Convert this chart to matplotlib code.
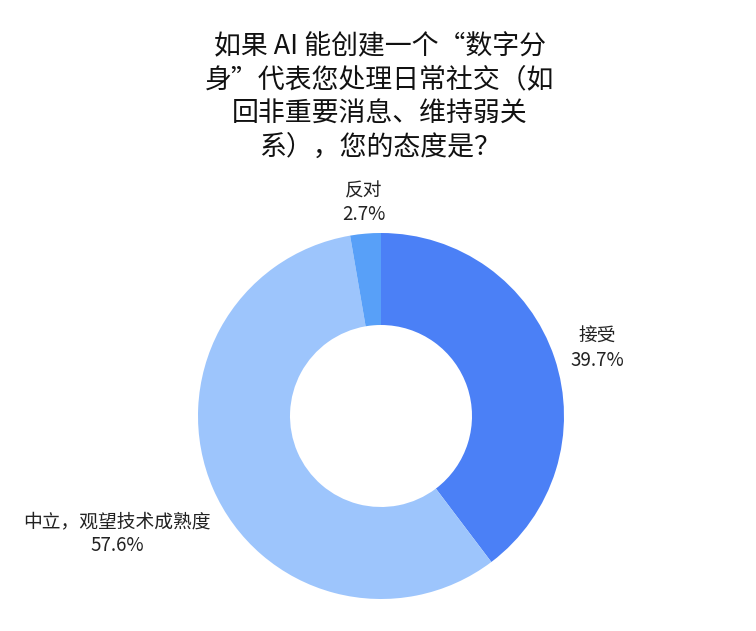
import matplotlib
matplotlib.use('Agg')
import matplotlib.pyplot as plt
import numpy as np

plt.rcParams['font.family'] = ['Noto Sans CJK SC', 'DejaVu Sans']

title = '如果 AI 能创建一个“数字分\n身”代表您处理日常社交（如\n回非重要消息、维持弱关\n系），您的态度是？'
labels = ['接受', '中立，观望技术成熟度', '反对']
values = [39.7, 57.6, 2.7]
colors = ['#4b80f6', '#9dc5fc', '#58a0f8']

W, H = 756, 631
fig = plt.figure(figsize=(W / 100, H / 100), dpi=100)
ax = fig.add_axes([0, 0, 1, 1])
ax.set_aspect('equal')
ax.axis('off')

cx, cy = 381, H - 416
r_out = 183
ring = 92

wedges, _ = ax.pie(values, colors=colors, startangle=90, counterclock=False,
                   center=(cx, cy), radius=r_out,
                   wedgeprops=dict(width=ring, linewidth=0))
ax.set_xlim(0, W)
ax.set_ylim(0, H)

for w, lab, v in zip(wedges, labels, values):
    ang = np.deg2rad((w.theta1 + w.theta2) / 2)
    x = cx + r_out * 1.12 * np.cos(ang)
    y = cy + r_out * 1.12 * np.sin(ang)
    if abs(np.cos(ang)) < 0.2:
        ha = 'center'
        y += 9
    elif np.cos(ang) > 0:
        ha = 'left'
        x -= 5
        y += 2
    else:
        ha = 'right'
        x += 18
        y -= 36
    ax.text(x, y, f'{lab}\n{v}%', ha=ha, va='center', multialignment='center',
            fontsize=13.5, color='#222222', linespacing=1.2)

ax.text(380, H - 97, title, ha='center', va='center', fontsize=19.4,
        fontweight='medium', color='#111111', linespacing=1.32)

fig.savefig('out.png', dpi=100, facecolor='white')
